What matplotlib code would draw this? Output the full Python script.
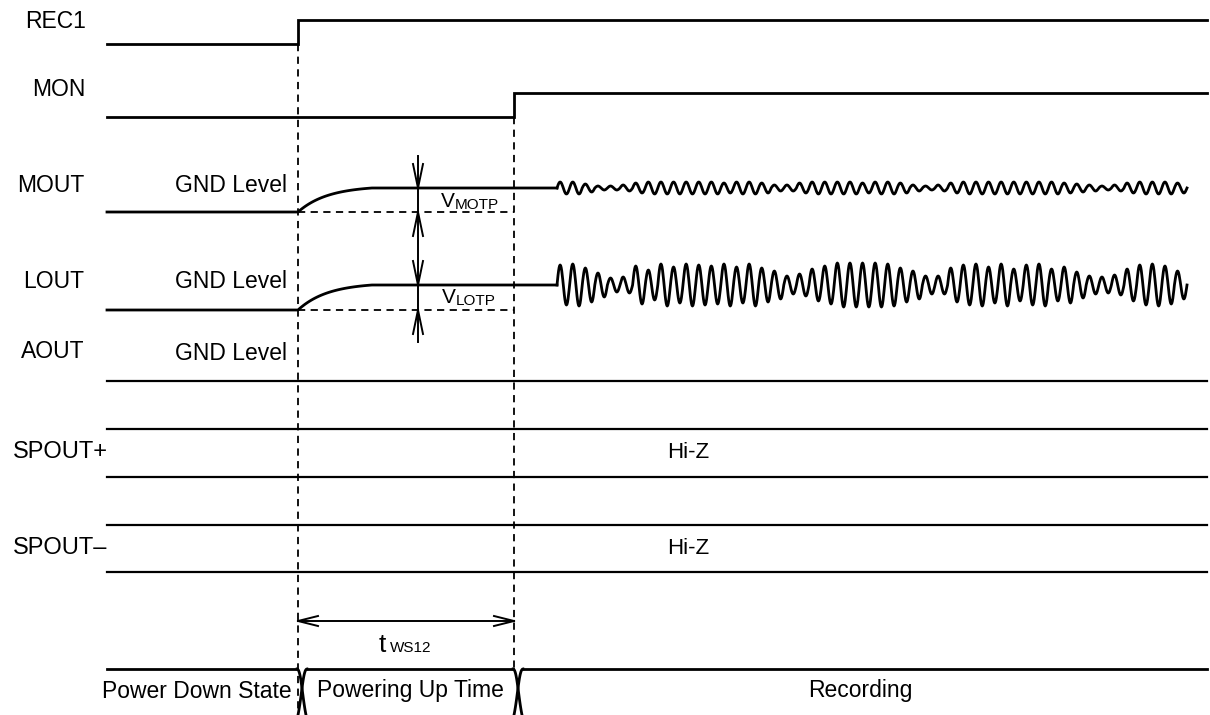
import numpy as np
import matplotlib.pyplot as plt

plt.rcParams['font.family'] = ['Liberation Sans', 'DejaVu Sans']

# signal names and where their labels sit
names = ['REC1', 'MON', 'MOUT', 'LOUT', 'AOUT', 'SPOUT+', 'SPOUT\u2013']
name_y = [21, 89, 185, 281, 352, 452, 548]
name_right = [86, 85, 84, 84, 84, 108, 107]
name_size = [16.5, 16.5, 16.5, 16.5, 16.5, 17, 17]

# timing points (pixel scale of the drawing)
t_start, t_rec, t_mon, t_settle, t_wave, t_end = 107, 298, 514, 372, 557, 1207
wave_end = 1187

# levels: (low, high)
rec1_lv = (44, 20)
mon_lv = (117, 93)
mout_lv = (212, 188)
lout_lv = (310, 285)
aout_y = 381
spout_p = (429, 477)
spout_m = (525, 572)

# half-amplitude of each cycle of the audio waves
mout_amp = [6, 6, 4, 2, 2, 3, 5, 6, 6, 6, 6, 6, 6, 5, 6, 6, 5, 3, 3, 5,
            6, 6, 6, 6, 5, 6, 6, 5, 3, 2, 3, 5, 6, 6, 6, 6, 6, 6, 6, 6,
            5, 4, 3, 2, 3, 5, 6, 6, 6, 5]
lout_amp = [20, 21, 17, 12, 7, 8, 19, 15, 21, 18, 21, 20, 19, 21, 18, 21, 17, 14, 9, 11,
            16, 19, 22, 22, 22, 22, 21, 17, 14, 9, 9, 17, 20, 21, 18, 21, 16, 20, 21, 16,
            18, 13, 9, 8, 10, 16, 20, 21, 19, 14]

states = ['Power Down State', 'Powering Up Time', 'Recording']
state_x = [197, 410, 860]

fig = plt.figure(figsize=(12.1, 7.15), dpi=100)
ax = fig.add_axes([0, 0, 1, 1])
ax.set_xlim(0, 1210)
ax.set_ylim(715, 0)
ax.axis('off')

LW = 2.0
FS = 16.5
k = dict(color='black', lw=LW, solid_joinstyle='miter')
dash = dict(color='black', lw=1.3, ls=(0, (4, 3)))


def step(lv, t_edge):
    ax.plot([t_start, t_edge, t_edge, t_end], [lv[0], lv[0], lv[1], lv[1]], **k)


def charge(lv):
    s = np.linspace(0, 1, 40)
    y = lv[0] - (lv[0] - lv[1]) * (1 - np.exp(-2.5 * s)) / (1 - np.exp(-2.5))
    x = t_rec + s * (t_settle - t_rec)
    ax.plot(np.r_[t_start, x, t_wave], np.r_[lv[0], y, lv[1]], **k)


def wave(yc, amps):
    per = (wave_end - t_wave) / len(amps)
    xs, ys = [], []
    t = np.linspace(0, 1, 25)
    for i, a in enumerate(amps):
        xs.append(t_wave + (i + t) * per)
        ys.append(yc - a * np.sin(2 * np.pi * t))
    ax.plot(np.concatenate(xs), np.concatenate(ys), color='black', lw=LW)


def head(x, y, dx, dy, length=22, half=5):
    # open arrow head with tip at (x, y) pointing along (dx, dy)
    px, py = -dy, dx
    for sgn in (1, -1):
        ax.plot([x - dx * length + sgn * px * half, x], [y - dy * length + sgn * py * half, y],
                color='black', lw=1.4)


# REC1 and MON
step(rec1_lv, t_rec)
step(mon_lv, t_mon)

# MOUT / LOUT
charge(mout_lv)
charge(lout_lv)
wave(mout_lv[1], mout_amp)
wave(lout_lv[1], lout_amp)
ax.plot([t_rec, t_mon], [mout_lv[0]] * 2, **dash)
ax.plot([t_rec, t_mon], [lout_lv[0]] * 2, **dash)

# AOUT and the Hi-Z outputs
ax.plot([t_start, t_end], [aout_y] * 2, color='black', lw=1.6)
for pair in (spout_p, spout_m):
    for y in pair:
        ax.plot([t_start, t_end], [y, y], color='black', lw=1.6)
    ax.text(688, np.mean(pair), 'Hi-Z', fontsize=16, ha='center', va='center')

# dashed timing marks
ax.plot([t_rec, t_rec], [rec1_lv[0], 715], **dash)
ax.plot([t_mon, t_mon], [mon_lv[0], 669], **dash)

# labels on the left
for nm, x, y, fs in zip(names, name_right, name_y, name_size):
    ax.text(x, y, nm, fontsize=fs, ha='right', va='center')
for y in (186, 282, 353):
    ax.text(287, y, 'GND Level', fontsize=FS, ha='right', va='center')

# V_MOTP / V_LOTP measurement arrows
xa = 418
ax.plot([xa, xa], [156, 342], color='black', lw=1.4)
head(xa, mout_lv[1], 0, 1, length=24)
head(xa, mout_lv[0], 0, -1, length=24)
head(xa, lout_lv[1], 0, 1, length=24)
head(xa, lout_lv[0], 0, -1, length=24)
ax.text(441, 207, 'V', fontsize=15, ha='left', va='baseline')
ax.text(455, 209, 'MOTP', fontsize=11, ha='left', va='baseline')
ax.text(442, 303, 'V', fontsize=15, ha='left', va='baseline')
ax.text(456, 305, 'LOTP', fontsize=11, ha='left', va='baseline')

# t_WS12
ya = 621
ax.plot([t_rec, t_mon], [ya, ya], color='black', lw=1.4)
head(t_rec, ya, -1, 0, length=20)
head(t_mon, ya, 1, 0, length=20)
ax.text(379, 652, 't', fontsize=19, ha='left', va='baseline')
ax.text(390, 652, 'WS12', fontsize=11, ha='left', va='baseline')

# state bar at the bottom
ys0, ys1 = 669, 715
ax.plot([t_start, t_rec - 1], [ys0, ys0], **k)
ax.plot([t_rec + 9, t_mon - 1], [ys0, ys0], **k)
ax.plot([t_mon + 9, t_end], [ys0, ys0], **k)
s = np.linspace(0, 1, 40)[:, None]
for xc in (t_rec + 4, t_mon + 4):
    for sgn in (1, -1):
        p = np.array([[xc - 5 * sgn, ys0], [xc - 1 * sgn, ys0], [xc, ys0 + 26], [xc + 4 * sgn, ys1]])
        bz = ((1 - s) ** 3) * p[0] + 3 * ((1 - s) ** 2) * s * p[1] + 3 * (1 - s) * s ** 2 * p[2] + s ** 3 * p[3]
        ax.plot(bz[:, 0], bz[:, 1], color='black', lw=LW)
for st, x in zip(states, state_x):
    ax.text(x, 691, st, fontsize=FS, ha='center', va='center')

fig.savefig('out.png', dpi=100)
